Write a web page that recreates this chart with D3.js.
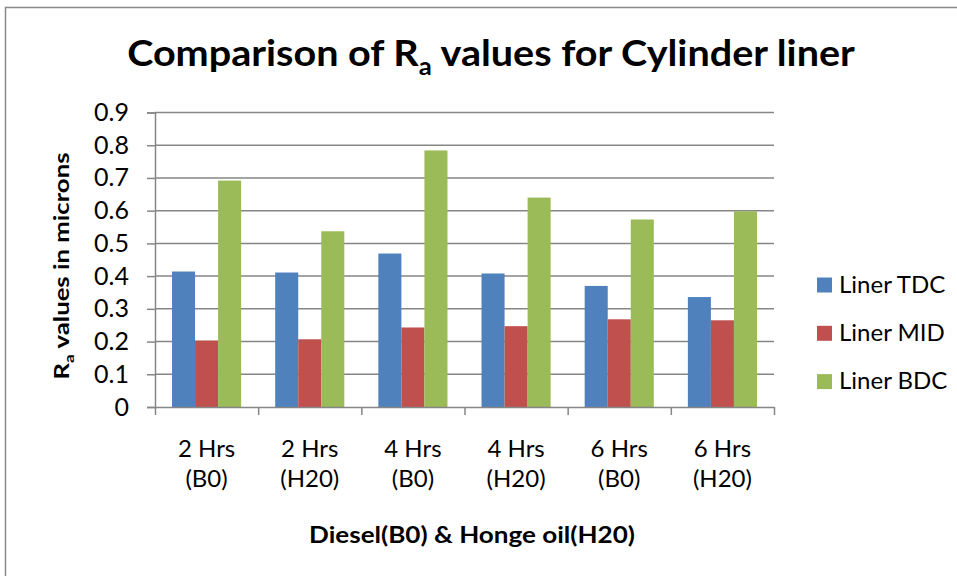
<!DOCTYPE html>
<html>
<head>
<meta charset="utf-8">
<script src="https://cdnjs.cloudflare.com/ajax/libs/d3/7.8.5/d3.min.js"></script>
<style>
  body { margin: 0; background: #fff; }
  svg text { font-family: Lato, "Open Sans", sans-serif; fill: #000; }
</style>
</head>
<body>
<svg id="chart" width="957" height="576"></svg>
<script>
// data
var catLine1 = ["2 Hrs", "2 Hrs", "4 Hrs", "4 Hrs", "6 Hrs", "6 Hrs"];
var catLine2 = ["(B0)", "(H20)", "(B0)", "(H20)", "(B0)", "(H20)"];
var seriesNames = ["Liner TDC", "Liner MID", "Liner BDC"];
var linerTDC = [0.414, 0.411, 0.469, 0.408, 0.370, 0.336];
var linerMID = [0.203, 0.207, 0.243, 0.247, 0.268, 0.265];
var linerBDC = [0.692, 0.537, 0.784, 0.640, 0.573, 0.598];
var tickValues = [0, 0.1, 0.2, 0.3, 0.4, 0.5, 0.6, 0.7, 0.8, 0.9];
var tickLabels = ["0", "0.1", "0.2", "0.3", "0.4", "0.5", "0.6", "0.7", "0.8", "0.9"];
var colors = ["#4F81BD", "#C0504D", "#9BBB59"];

var seriesValues = [linerTDC, linerMID, linerBDC];
var catKeys = catLine1.map(function(d, i) { return d + " " + catLine2[i]; });

var svg = d3.select("#chart");
var plotLeft = 155, plotRight = 774, plotTop = 112.5, plotBottom = 407;
var gridColor = "#868686";

// squeeze a text to a given width (fonts differ from the original)
function fitWidth(sel, w, x, y, rot) {
  var bw = sel.node().getBBox().width;
  var s = w / bw;
  sel.attr("transform", "translate(" + x + "," + y + ")" + (rot ? " rotate(" + rot + ")" : "") + " scale(" + s + ",1)");
}

// outer frame
svg.append("rect")
  .attr("x", 5.5).attr("y", 7.5)
  .attr("width", 1000).attr("height", 1000)
  .attr("fill", "none")
  .attr("stroke", "#898989")
  .attr("stroke-width", 1.5);

// scales
var y = d3.scaleLinear().domain([0, 0.9]).range([plotBottom, plotTop]);
var x0 = d3.scaleBand().domain(catKeys).range([plotLeft, plotRight]).paddingInner(0.33).paddingOuter(0.165);
var x1 = d3.scaleBand().domain(seriesNames).range([0, x0.bandwidth()]);
var xEdge = d3.scaleLinear().domain([0, catKeys.length]).range([plotLeft, plotRight]);

// grid lines
svg.append("g")
  .selectAll("line")
  .data(tickValues.slice(1))
  .enter().append("line")
  .attr("x1", plotLeft).attr("x2", plotRight)
  .attr("y1", function(d) { return y(d); })
  .attr("y2", function(d) { return y(d); })
  .attr("stroke", gridColor)
  .attr("stroke-width", 1.5);

// bars
seriesValues.forEach(function(vals, s) {
  svg.append("g")
    .selectAll("rect")
    .data(vals)
    .enter().append("rect")
    .attr("x", function(d, i) { return x0(catKeys[i]) + x1(seriesNames[s]); })
    .attr("y", function(d) { return y(d); })
    .attr("width", x1.bandwidth())
    .attr("height", function(d) { return plotBottom - y(d); })
    .attr("fill", colors[s]);
});

// y axis
var yAxis = svg.append("g")
  .attr("transform", "translate(" + plotLeft + ",0)")
  .call(d3.axisLeft(y).tickValues(tickValues)
    .tickFormat(function(d, i) { return tickLabels[i]; })
    .tickSize(8).tickPadding(18));
yAxis.select(".domain").attr("stroke", gridColor).attr("stroke-width", 1.5);
yAxis.selectAll(".tick line").attr("stroke", gridColor).attr("stroke-width", 1.5);
yAxis.selectAll(".tick text")
  .attr("font-family", "Lato, sans-serif")
  .attr("font-size", 25);

// x axis
var xAxis = svg.append("g")
  .attr("transform", "translate(0," + plotBottom + ")")
  .call(d3.axisBottom(xEdge).ticks(catKeys.length).tickFormat("").tickSize(8).tickSizeOuter(0));
xAxis.select(".domain").attr("stroke", gridColor).attr("stroke-width", 1.5);
xAxis.selectAll(".tick line").attr("stroke", gridColor).attr("stroke-width", 1.5);

// category labels, two lines each
var catG = svg.append("g").selectAll("text")
  .data(catKeys)
  .enter().append("text")
  .attr("text-anchor", "middle")
  .attr("font-size", 24);
catG.append("tspan")
  .attr("x", function(d) { return x0(d) + x0.bandwidth() / 2; })
  .attr("y", 457)
  .text(function(d, i) { return catLine1[i]; });
catG.append("tspan")
  .attr("x", function(d) { return x0(d) + x0.bandwidth() / 2; })
  .attr("y", 487)
  .text(function(d, i) { return catLine2[i]; });

// title
var title = svg.append("text")
  .attr("text-anchor", "middle")
  .attr("font-size", 37)
  .attr("font-weight", "bold");
title.append("tspan").text("Comparison of R");
title.append("tspan").attr("font-size", 24).attr("dy", 9).text("a");
title.append("tspan").attr("dy", -9).text(" values for Cylinder liner");
fitWidth(title, 728, 491, 66);

// y axis title
var yTitle = svg.append("text")
  .attr("text-anchor", "middle")
  .attr("font-size", 21)
  .attr("font-weight", "bold");
yTitle.append("tspan").text("R");
yTitle.append("tspan").attr("font-size", 14).attr("dy", 5).text("a");
yTitle.append("tspan").attr("dy", -5).text(" values in microns");
fitWidth(yTitle, 227, 69, 266, -90);

// x axis title
var xTitle = svg.append("text")
  .attr("text-anchor", "middle")
  .attr("font-size", 22)
  .attr("font-weight", "bold")
  .text("Diesel(B0) & Honge oil(H20)");
fitWidth(xTitle, 326, 472, 543);

// legend
var legend = svg.append("g").selectAll("g")
  .data(seriesNames)
  .enter().append("g")
  .attr("transform", function(d, i) { return "translate(817," + (277.5 + i * 48.3) + ")"; });
legend.append("rect")
  .attr("width", 15).attr("height", 15)
  .attr("fill", function(d, i) { return colors[i]; });
legend.append("text")
  .attr("x", 22).attr("y", 15)
  .attr("font-size", 24)
  .text(function(d) { return d; });
</script>
</body>
</html>
